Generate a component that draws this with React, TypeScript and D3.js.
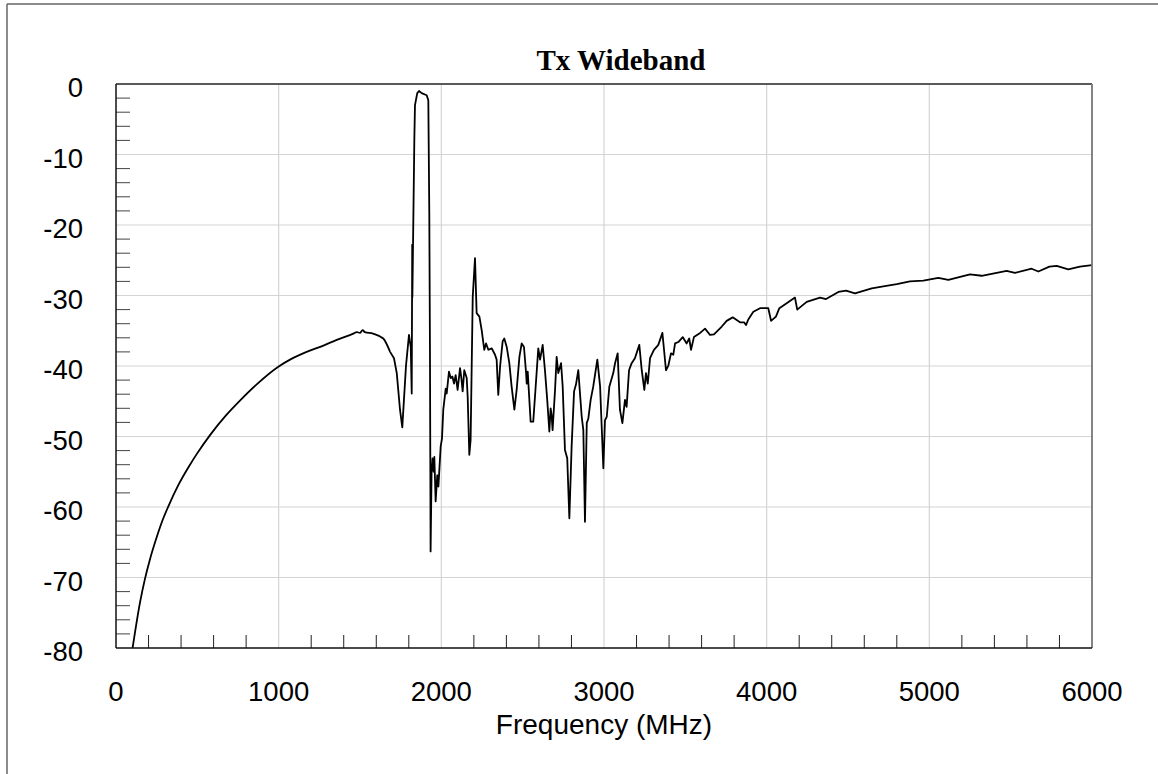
import { useMemo } from 'react';
import * as d3 from 'd3';

// --- Data ---
const freqMHz = [
    102, 148, 178, 209, 250, 281, 322, 383, 455, 496, 578, 680, 762, 865, 998,
    1070, 1172, 1275, 1357, 1459, 1480, 1500, 1516, 1530, 1580, 1643, 1685, 1709, 1726, 1746,
    1760, 1783, 1801, 1812, 1818, 1820, 1821, 1822, 1834, 1838, 1852, 1863, 1879, 1910, 1920,
    1926, 1930, 1934, 1940, 1946, 1953, 1957, 1965, 1975, 1982, 1996, 2004, 2012, 2027, 2033,
    2047, 2058, 2068, 2078, 2088, 2100, 2115, 2123, 2131, 2141, 2156, 2162, 2172, 2180, 2193,
    2207, 2217, 2234, 2248, 2264, 2275, 2289, 2310, 2330, 2340, 2350, 2361, 2377, 2387, 2402,
    2418, 2432, 2449, 2463, 2480, 2494, 2508, 2521, 2525, 2531, 2549, 2565, 2580, 2596, 2607,
    2623, 2637, 2651, 2664, 2672, 2678, 2684, 2699, 2709, 2719, 2736, 2746, 2760, 2774, 2787,
    2801, 2816, 2828, 2842, 2863, 2873, 2883, 2894, 2904, 2918, 2934, 2959, 2976, 2996, 3006,
    3017, 3033, 3057, 3068, 3084, 3098, 3113, 3129, 3139, 3154, 3170, 3190, 3217, 3232, 3248,
    3258, 3269, 3283, 3307, 3334, 3359, 3369, 3381, 3396, 3412, 3426, 3437, 3457, 3484, 3508,
    3524, 3535, 3553, 3586, 3621, 3652, 3676, 3724, 3754, 3791, 3836, 3861, 3873, 3887, 3918,
    3959, 4010, 4027, 4057, 4078, 4123, 4174, 4188, 4246, 4328, 4365, 4441, 4488, 4543, 4646,
    4717, 4800, 4881, 4963, 5055, 5117, 5250, 5322, 5475, 5526, 5629, 5670, 5738, 5783, 5854,
    5926, 6000,
];

const levelDb = [
    -80, -73.5, -70.2, -67.4, -64.3, -62.2, -59.9, -56.9, -54.0, -52.5, -49.8, -46.9, -44.9, -42.6, -40.1,
    -39.1, -38.0, -37.1, -36.3, -35.4, -35.2, -35.3, -34.9, -35.2, -35.4, -36.1, -38.0, -38.9, -41.0, -46.2,
    -48.7, -39.9, -35.6, -37.3, -43.9, -30.2, -22.8, -30.2, -7.9, -3.0, -1.3, -1.0, -1.3, -1.6, -2.3,
    -18.3, -37.3, -66.3, -55.2, -53.1, -55.0, -52.9, -59.2, -55.5, -57.1, -51.4, -50.3, -46.2, -43.2, -43.9,
    -40.8, -41.7, -41.5, -42.5, -41.3, -43.4, -40.3, -41.7, -43.6, -40.6, -41.7, -44.4, -52.6, -50.5, -30.2,
    -24.7, -32.5, -33.0, -34.9, -37.7, -36.8, -37.7, -37.5, -38.4, -39.1, -44.1, -40.1, -36.5, -36.1, -37.3,
    -39.6, -42.9, -46.2, -43.4, -38.7, -36.8, -37.3, -41.0, -42.5, -40.8, -47.9, -47.9, -42.9, -37.5, -39.1,
    -37.0, -40.6, -44.8, -49.3, -46.0, -47.0, -49.1, -43.4, -38.7, -41.0, -39.6, -42.9, -51.9, -53.1, -61.6,
    -51.4, -43.6, -42.6, -40.6, -47.2, -49.1, -62.1, -48.1, -47.4, -44.8, -42.9, -39.1, -42.9, -54.5, -47.7,
    -47.2, -42.9, -41.0, -39.6, -38.2, -46.2, -48.1, -44.8, -45.8, -40.6, -39.6, -38.9, -37.0, -40.6, -43.4,
    -41.0, -42.5, -38.9, -37.7, -37.0, -35.3, -37.7, -40.6, -39.9, -38.2, -38.4, -36.8, -36.6, -35.9, -36.8,
    -36.1, -37.7, -35.9, -35.4, -34.7, -35.6, -35.5, -34.4, -33.6, -33.1, -33.8, -33.8, -34.2, -33.4, -32.3,
    -31.8, -31.8, -33.6, -33.0, -31.8, -31.1, -30.3, -32.0, -30.9, -30.3, -30.5, -29.5, -29.3, -29.7, -29.0,
    -28.7, -28.4, -28.0, -27.9, -27.5, -27.8, -27.0, -27.2, -26.5, -26.8, -26.2, -26.6, -25.9, -25.8, -26.3,
    -25.9, -25.7,
];

const xTicks = [0, 1000, 2000, 3000, 4000, 5000, 6000];
const yTicks = [0, -10, -20, -30, -40, -50, -60, -70, -80];

const title = 'Tx Wideband';
const xTitle = 'Frequency (MHz)';

const W = 1158;
const H = 774;
const M = { left: 116, top: 84, right: 1092, bottom: 648 };
const SMOOTH_UNTIL = 1685; // the low-frequency roll-off is a smooth curve in the original

export default function App() {
    const x = useMemo(() => d3.scaleLinear().domain([0, 6000]).range([M.left, M.right]), []);
    const y = useMemo(() => d3.scaleLinear().domain([-80, 0]).range([M.bottom, M.top]), []);

    const points = freqMHz.map((f, i) => [f, levelDb[i]] as [number, number]);
    const smoothPts = points.filter(p => p[0] <= SMOOTH_UNTIL);
    const roughPts = points.filter(p => p[0] >= SMOOTH_UNTIL);

    const smoothPath = d3.line<[number, number]>()
        .x(d => x(d[0]))
        .y(d => y(d[1]))
        .curve(d3.curveMonotoneX)(smoothPts) || '';
    const roughPath = d3.line<[number, number]>()
        .x(d => x(d[0]))
        .y(d => y(d[1]))(roughPts) || '';

    // minor ticks: every 200 MHz, every 2 dB
    const xMinor = d3.range(200, 6000, 200).filter(v => v % 1000 !== 0);
    const yMinor = d3.range(-78, 0, 2).filter(v => v % 10 !== 0);

    const font = 'Arial, "Liberation Sans", sans-serif';

    return (
        <div style={{ position: 'fixed', left: 0, top: 0, width: W, height: H, background: '#fff' }}>
            <svg width={W} height={H} style={{ display: 'block' }}>
                {/* outer frame */}
                <line x1={7} y1={4} x2={W} y2={4} stroke="#666" strokeWidth={1.5} />
                <line x1={7} y1={4} x2={7} y2={H} stroke="#666" strokeWidth={1.5} />

                <clipPath id="plot-clip">
                    <rect x={M.left} y={M.top} width={M.right - M.left} height={M.bottom - M.top} />
                </clipPath>

                {/* grid */}
                {xTicks.slice(1, -1).map(t => (
                    <line key={'gx' + t} x1={x(t)} x2={x(t)} y1={M.top} y2={M.bottom} stroke="#d4d4d4" strokeWidth={1.2} />
                ))}
                {yTicks.slice(1, -1).map(t => (
                    <line key={'gy' + t} x1={M.left} x2={M.right} y1={y(t)} y2={y(t)} stroke="#d4d4d4" strokeWidth={1.2} />
                ))}

                {/* minor ticks */}
                {xMinor.map(t => (
                    <line key={'mx' + t} x1={x(t)} x2={x(t)} y1={M.bottom} y2={M.bottom - 13} stroke="#222" strokeWidth={1} />
                ))}
                {yMinor.map(t => (
                    <line key={'my' + t} x1={M.left} x2={M.left + 14} y1={y(t)} y2={y(t)} stroke="#444" strokeWidth={1} />
                ))}

                {/* trace */}
                <g clipPath="url(#plot-clip)" fill="none" stroke="#000" strokeWidth={1.8} strokeLinejoin="round">
                    <path d={smoothPath} />
                    <path d={roughPath} />
                </g>

                {/* plot frame */}
                <line x1={M.left} x2={M.right} y1={M.top} y2={M.top} stroke="#222" strokeWidth={1.3} />
                <line x1={M.right} x2={M.right} y1={M.top} y2={M.bottom} stroke="#777" strokeWidth={1.8} />
                <line x1={M.left} x2={M.left} y1={M.top} y2={M.bottom} stroke="#111" strokeWidth={1.5} />
                <line x1={M.left} x2={M.right} y1={M.bottom} y2={M.bottom} stroke="#111" strokeWidth={1.5} />

                {/* tick labels */}
                {yTicks.map(t => (
                    <text key={'ly' + t} x={83} y={y(t) + 13} textAnchor="end" fontFamily={font} fontSize={27.5} fill="#000">
                        {t}
                    </text>
                ))}
                {xTicks.map(t => (
                    <text key={'lx' + t} x={x(t)} y={701} textAnchor="middle" fontFamily={font} fontSize={27.5} fill="#000">
                        {t}
                    </text>
                ))}

                <text x={(M.left + M.right) / 2} y={734} textAnchor="middle" fontFamily={font} fontSize={28} fill="#000">
                    {xTitle}
                </text>
                <text x={621} y={70} textAnchor="middle" fontFamily='"Times New Roman", "Liberation Serif", serif' fontWeight="bold" fontSize={29} fill="#000">
                    {title}
                </text>
            </svg>
        </div>
    );
}
